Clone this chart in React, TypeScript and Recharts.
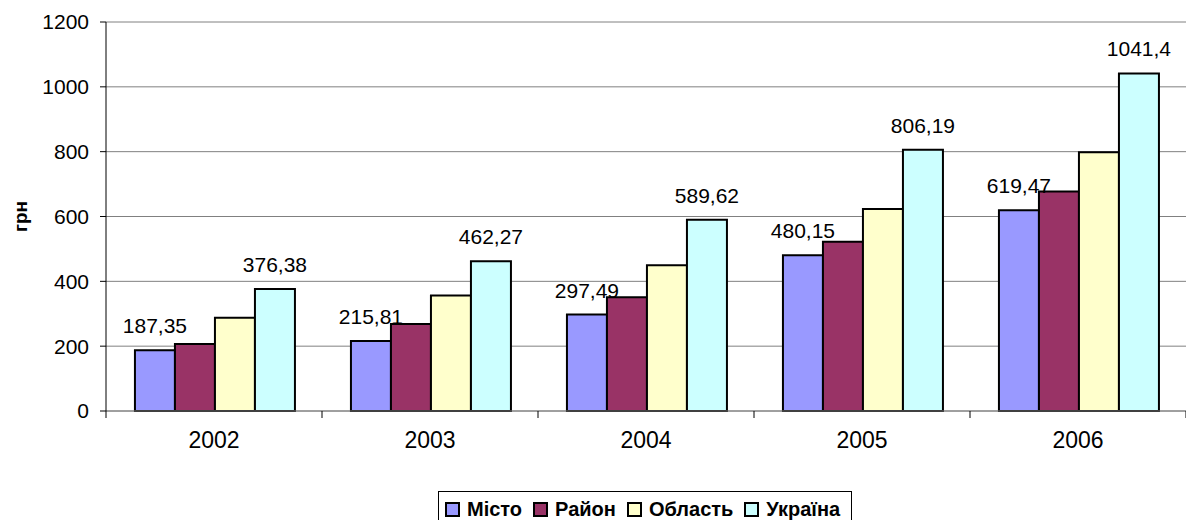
import { BarChart, Bar, XAxis, YAxis, CartesianGrid, LabelList, Legend } from 'recharts'

const CATEGORIES = ['2002', '2003', '2004', '2005', '2006']
const MISTO = [187.35, 215.81, 297.49, 480.15, 619.47]
const RAYON = [207, 268, 351, 522, 677]
const OBLAST = [288, 356, 450, 623, 798]
const UKRAINA = [376.38, 462.27, 589.62, 806.19, 1041.4]
const Y_TICKS = [0, 200, 400, 600, 800, 1000, 1200]

const SERIES = [
  { key: 'misto', name: 'Місто', color: '#9999FF', labels: true },
  { key: 'rayon', name: 'Район', color: '#993366', labels: false },
  { key: 'oblast', name: 'Область', color: '#FFFFCC', labels: false },
  { key: 'ukraina', name: 'Україна', color: '#CCFFFF', labels: true },
]

const data = CATEGORIES.map((year, i) => ({
  year,
  misto: MISTO[i],
  rayon: RAYON[i],
  oblast: OBLAST[i],
  ukraina: UKRAINA[i],
}))

const WIDTH = 1186
const HEIGHT = 520
const Y_AXIS_W = 106
const HALF_BAND = (WIDTH - Y_AXIS_W) / CATEGORIES.length / 2
const FONT = '"Liberation Sans", Arial, sans-serif'

const fmt = (v: any) => String(v).replace('.', ',')

// category tick with Excel-style marks between the groups
function YearTick(props: any) {
  const { x, y, payload, index } = props
  const top = y - 8
  return (
    <g>
      <line x1={x - HALF_BAND} y1={top} x2={x - HALF_BAND} y2={top + 7} stroke="#000" />
      {index === CATEGORIES.length - 1 && (
        <line x1={x + HALF_BAND} y1={top} x2={x + HALF_BAND} y2={top + 7} stroke="#000" />
      )}
      <text x={x} y={y} dy={29} textAnchor="middle" fontSize={23} fill="#000" fontFamily={FONT}>
        {payload.value}
      </text>
    </g>
  )
}

function LegendBox() {
  return (
    <div
      style={{
        display: 'flex',
        alignItems: 'center',
        border: '1px solid #000',
        padding: '6px 0 10px 6px',
        fontFamily: FONT,
        fontWeight: 'bold',
        fontSize: 20,
        color: '#000',
        background: '#fff',
      }}
    >
      {SERIES.map((s) => (
        <span key={s.key} style={{ display: 'flex', alignItems: 'center', marginRight: 11 }}>
          <span
            style={{
              width: 11,
              height: 11,
              background: s.color,
              border: '2px solid #000',
              marginRight: 7,
              display: 'inline-block',
            }}
          />
          {s.name}
        </span>
      ))}
    </div>
  )
}

export default function App() {
  return (
    <div style={{ position: 'absolute', left: 0, top: 0, width: WIDTH, height: HEIGHT, background: '#fff', fontFamily: FONT }}>
      <BarChart
        width={WIDTH}
        height={HEIGHT}
        data={data}
        margin={{ top: 22, right: 0, bottom: 79, left: 0 }}
        barCategoryGap="13.4%"
        barGap={0}
      >
        <CartesianGrid vertical={false} stroke="#808080" />
        <XAxis
          dataKey="year"
          height={30}
          tickLine={false}
          stroke="#808080"
          tick={<YearTick />}
          interval={0}
        />
        <YAxis
          width={Y_AXIS_W}
          domain={[0, 1200]}
          ticks={Y_TICKS}
          stroke="#000"
          tickSize={6}
          tickMargin={11}
          tick={{ fontSize: 21, fill: '#000', fontFamily: FONT }}
          label={({ viewBox }: any) => (
            <text
              x={20}
              y={viewBox.y + viewBox.height / 2}
              transform={`rotate(-90, 20, ${viewBox.y + viewBox.height / 2})`}
              textAnchor="middle"
              dominantBaseline="central"
              fontSize={19}
              fontWeight="bold"
              fontFamily={FONT}
              fill="#000"
            >
              грн
            </text>
          )}
        />
        <Legend
          align="center"
          verticalAlign="middle"
          content={<LegendBox />}
          wrapperStyle={{ top: 491, left: 438, width: 'auto', height: 'auto' }}
        />
        {SERIES.map((s) => (
          <Bar
            key={s.key}
            dataKey={s.key}
            name={s.name}
            fill={s.color}
            stroke="#000"
            strokeWidth={2}
            isAnimationActive={false}
          >
            {s.labels && (
              <LabelList
                dataKey={s.key}
                position="top"
                offset={17}
                formatter={fmt}
                style={{ fontSize: 21, fill: '#000', fontFamily: FONT }}
              />
            )}
          </Bar>
        ))}
      </BarChart>
    </div>
  )
}
